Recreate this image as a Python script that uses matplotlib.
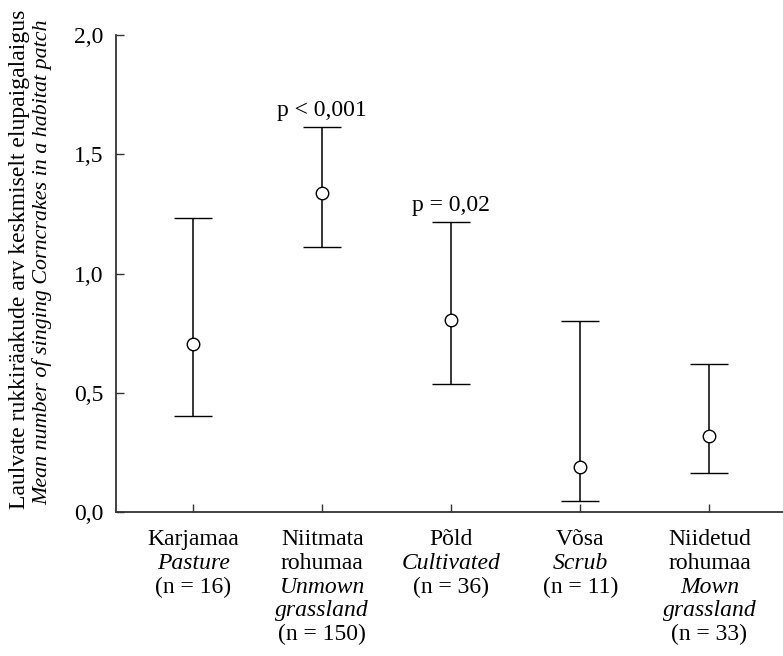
import matplotlib
matplotlib.use("Agg")
import matplotlib.pyplot as plt
import matplotlib.transforms as mtransforms

plt.rcParams["font.family"] = ["Liberation Serif", "DejaVu Serif"]
FS = 17
plt.rcParams["font.size"] = FS

# values
habitats = ["Karjamaa", "Niitmata rohumaa", "Põld", "Võsa", "Niidetud rohumaa"]
means = [0.704, 1.339, 0.805, 0.190, 0.319]
upper = [1.231, 1.613, 1.217, 0.801, 0.621]
lower = [0.403, 1.112, 0.535, 0.046, 0.165]
p_labels = ["", "p < 0,001", "p = 0,02", "", ""]
# category label lines: (text, italic)
cat_lines = [
    [("Karjamaa", False), ("Pasture", True), ("(n = 16)", False)],
    [("Niitmata", False), ("rohumaa", False), ("Unmown", True),
     ("grassland", True), ("(n = 150)", False)],
    [("Põld", False), ("Cultivated", True), ("(n = 36)", False)],
    [("Võsa", False), ("Scrub", True), ("(n = 11)", False)],
    [("Niidetud", False), ("rohumaa", False), ("Mown", True),
     ("grassland", True), ("(n = 33)", False)],
]
yticks = [0.0, 0.5, 1.0, 1.5, 2.0]
ytick_labels = ["0,0", "0,5", "1,0", "1,5", "2,0"]

fig = plt.figure(figsize=(7.83, 6.56), dpi=100)
ax = fig.add_axes([0.148, 0.2195, 0.852, 0.7271])

xs = list(range(len(habitats)))
yerr = [[m - lo for m, lo in zip(means, lower)],
        [hi - m for m, hi in zip(means, upper)]]
ax.errorbar(xs, means, yerr=yerr, fmt="o", color="black", ecolor="black",
            elinewidth=1.1, capsize=14, capthick=1.1, markersize=9,
            markerfacecolor="white", markeredgecolor="black",
            markeredgewidth=1.0, zorder=3)

for x, hi, lab in zip(xs, upper, p_labels):
    if lab:
        ax.annotate(lab, xy=(x, hi), xytext=(0, 8), textcoords="offset points",
                    ha="center", va="baseline", fontsize=FS)

ax.set_xlim(-0.6, 4.57)
ax.set_ylim(0, 2.0)
ax.set_yticks(yticks)
ax.set_yticklabels(ytick_labels)
ax.set_xticks(xs)
ax.set_xticklabels([])
ax.tick_params(direction="in", length=6, width=1.0, color="#333333")
ax.tick_params(axis="y", pad=9)
for side in ["top", "right"]:
    ax.spines[side].set_visible(False)
for side in ["left", "bottom"]:
    ax.spines[side].set_linewidth(1.3)
    ax.spines[side].set_color("#333333")

trans = mtransforms.blended_transform_factory(ax.transData, ax.transAxes)
for x, lines in zip(xs, cat_lines):
    for k, (txt, it) in enumerate(lines):
        ax.annotate(txt, xy=(x, 0), xycoords=trans,
                    xytext=(0, -20 - 17 * k), textcoords="offset points",
                    ha="center", va="center", fontsize=FS,
                    style="italic" if it else "normal", annotation_clip=False)

fig.text(0.025, 0.604, "Laulvate rukkiräakude arv keskmiselt elupaigalaigus",
         rotation=90, ha="center", va="center", fontsize=FS)
fig.text(0.054, 0.6, "Mean number of singing Corncrakes in a habitat patch",
         rotation=90, ha="center", va="center", fontsize=15.8, style="italic")

fig.savefig("out.png", dpi=100)
